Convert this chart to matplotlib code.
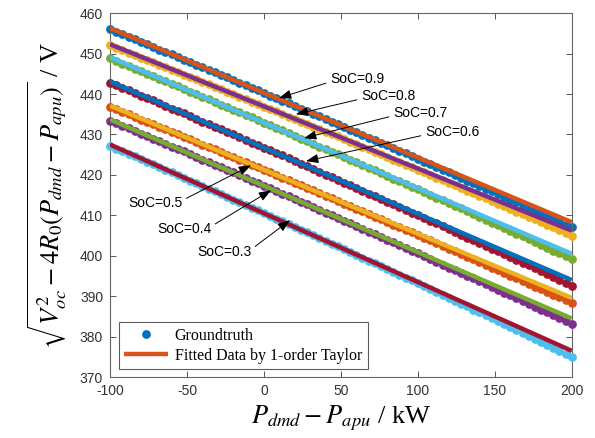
import numpy as np
import matplotlib
matplotlib.use("Agg")
import matplotlib.pyplot as plt

plt.rcParams["mathtext.fontset"] = "stix"
plt.rcParams["font.family"] = ["Liberation Sans", "DejaVu Sans"]
plt.rcParams["axes.unicode_minus"] = False

# demand power minus APU power, kW (sample grid of the ground truth)
power_kw = np.arange(-100, 201, 4)

# ground truth sqrt(Voc^2 - 4 R0 P), V
gt_09 = [456.0, 455.4, 454.8, 454.1, 453.5, 452.9, 452.3, 451.6, 451.0, 450.4,
         449.8, 449.1, 448.5, 447.9, 447.3, 446.6, 446.0, 445.4, 444.7, 444.1,
         443.5, 442.8, 442.2, 441.5, 440.9, 440.3, 439.6, 439.0, 438.3, 437.7,
         437.1, 436.4, 435.8, 435.1, 434.5, 433.8, 433.2, 432.5, 431.9, 431.2,
         430.6, 429.9, 429.2, 428.6, 427.9, 427.3, 426.6, 425.9, 425.3, 424.6,
         424.0, 423.3, 422.6, 422.0, 421.3, 420.6, 420.0, 419.3, 418.6, 417.9,
         417.3, 416.6, 415.9, 415.2, 414.5, 413.9, 413.2, 412.5, 411.8, 411.1,
         410.4, 409.8, 409.1, 408.4, 407.7, 407.0]
gt_08 = [452.0, 451.4, 450.8, 450.2, 449.6, 449.0, 448.4, 447.8, 447.2, 446.6,
         446.0, 445.4, 444.8, 444.2, 443.6, 443.0, 442.4, 441.8, 441.2, 440.6,
         440.0, 439.3, 438.7, 438.1, 437.5, 436.9, 436.3, 435.7, 435.0, 434.4,
         433.8, 433.2, 432.6, 431.9, 431.3, 430.7, 430.1, 429.5, 428.8, 428.2,
         427.6, 426.9, 426.3, 425.7, 425.1, 424.4, 423.8, 423.2, 422.5, 421.9,
         421.2, 420.6, 420.0, 419.3, 418.7, 418.0, 417.4, 416.8, 416.1, 415.5,
         414.8, 414.2, 413.5, 412.9, 412.2, 411.6, 410.9, 410.3, 409.6, 409.0,
         408.3, 407.6, 407.0, 406.3, 405.7, 405.0]
gt_07 = [448.8, 448.2, 447.5, 446.9, 446.3, 445.7, 445.0, 444.4, 443.8, 443.1,
         442.5, 441.9, 441.2, 440.6, 440.0, 439.3, 438.7, 438.1, 437.4, 436.8,
         436.1, 435.5, 434.8, 434.2, 433.5, 432.9, 432.3, 431.6, 431.0, 430.3,
         429.6, 429.0, 428.3, 427.7, 427.0, 426.4, 425.7, 425.1, 424.4, 423.7,
         423.1, 422.4, 421.7, 421.1, 420.4, 419.7, 419.1, 418.4, 417.7, 417.1,
         416.4, 415.7, 415.0, 414.4, 413.7, 413.0, 412.3, 411.7, 411.0, 410.3,
         409.6, 408.9, 408.2, 407.5, 406.9, 406.2, 405.5, 404.8, 404.1, 403.4,
         402.7, 402.0, 401.3, 400.6, 399.9, 399.2]
gt_06 = [442.8, 442.2, 441.5, 440.9, 440.3, 439.6, 439.0, 438.4, 437.7, 437.1,
         436.4, 435.8, 435.2, 434.5, 433.9, 433.2, 432.6, 431.9, 431.3, 430.6,
         430.0, 429.3, 428.7, 428.0, 427.4, 426.7, 426.1, 425.4, 424.8, 424.1,
         423.4, 422.8, 422.1, 421.5, 420.8, 420.1, 419.5, 418.8, 418.1, 417.5,
         416.8, 416.1, 415.4, 414.8, 414.1, 413.4, 412.7, 412.1, 411.4, 410.7,
         410.0, 409.3, 408.7, 408.0, 407.3, 406.6, 405.9, 405.2, 404.5, 403.8,
         403.1, 402.5, 401.8, 401.1, 400.4, 399.7, 399.0, 398.3, 397.6, 396.9,
         396.2, 395.5, 394.7, 394.0, 393.3, 392.6]
gt_05 = [436.8, 436.2, 435.6, 435.0, 434.3, 433.7, 433.1, 432.5, 431.9, 431.3,
         430.6, 430.0, 429.4, 428.8, 428.2, 427.5, 426.9, 426.3, 425.7, 425.0,
         424.4, 423.8, 423.1, 422.5, 421.9, 421.2, 420.6, 420.0, 419.3, 418.7,
         418.1, 417.4, 416.8, 416.2, 415.5, 414.9, 414.2, 413.6, 412.9, 412.3,
         411.6, 411.0, 410.3, 409.7, 409.0, 408.4, 407.7, 407.1, 406.4, 405.8,
         405.1, 404.4, 403.8, 403.1, 402.5, 401.8, 401.1, 400.5, 399.8, 399.1,
         398.5, 397.8, 397.1, 396.5, 395.8, 395.1, 394.4, 393.8, 393.1, 392.4,
         391.7, 391.0, 390.4, 389.7, 389.0, 388.3]
gt_04 = [433.4, 432.8, 432.1, 431.5, 430.9, 430.2, 429.6, 429.0, 428.3, 427.7,
         427.0, 426.4, 425.8, 425.1, 424.5, 423.8, 423.2, 422.5, 421.9, 421.2,
         420.6, 419.9, 419.3, 418.6, 418.0, 417.3, 416.7, 416.0, 415.3, 414.7,
         414.0, 413.4, 412.7, 412.0, 411.4, 410.7, 410.0, 409.4, 408.7, 408.0,
         407.3, 406.7, 406.0, 405.3, 404.7, 404.0, 403.3, 402.6, 401.9, 401.3,
         400.6, 399.9, 399.2, 398.5, 397.8, 397.1, 396.5, 395.8, 395.1, 394.4,
         393.7, 393.0, 392.3, 391.6, 390.9, 390.2, 389.5, 388.8, 388.1, 387.4,
         386.7, 386.0, 385.3, 384.5, 383.8, 383.1]
gt_03 = [427.2, 426.5, 425.9, 425.2, 424.6, 423.9, 423.3, 422.6, 421.9, 421.3,
         420.6, 420.0, 419.3, 418.6, 418.0, 417.3, 416.6, 415.9, 415.3, 414.6,
         413.9, 413.3, 412.6, 411.9, 411.2, 410.5, 409.9, 409.2, 408.5, 407.8,
         407.1, 406.4, 405.8, 405.1, 404.4, 403.7, 403.0, 402.3, 401.6, 400.9,
         400.2, 399.5, 398.8, 398.1, 397.4, 396.7, 396.0, 395.3, 394.6, 393.9,
         393.2, 392.5, 391.7, 391.0, 390.3, 389.6, 388.9, 388.2, 387.5, 386.7,
         386.0, 385.3, 384.6, 383.8, 383.1, 382.4, 381.6, 380.9, 380.2, 379.4,
         378.7, 378.0, 377.2, 376.5, 375.8, 375.0]

soc_labels = ["SoC=0.9", "SoC=0.8", "SoC=0.7", "SoC=0.6", "SoC=0.5", "SoC=0.4", "SoC=0.3"]
# 1-order Taylor fit, values at P=-100 and P=200
fit_ends_kw = [-100, 200]
fit_start = [456.3, 452.3, 449.1, 443.1, 437.1, 433.7, 427.5]
fit_end = [408.3, 406.2, 400.5, 394.0, 389.6, 384.5, 376.5]

# annotation arrow tips and text anchors (data coords)
tip_x = [9.7, 20.7, 26.0, 27.3, -8.4, 4.6, 16.9]
tip_y = [439.0, 435.0, 429.1, 423.4, 422.4, 416.2, 408.8]
text_x = [42.9, 63.0, 83.8, 104.6, -88.3, -69.5, -43.5]
text_y = [443.7, 439.5, 435.3, 430.6, 413.0, 406.6, 400.9]

# MATLAB default color order
blue, orange, yellow, purple = "#0072BD", "#D95319", "#EDB120", "#7E2F8E"
green, cyan, dkred = "#77AC30", "#4DBEEE", "#A2142F"
dot_colors = [blue, yellow, green, dkred, orange, purple, cyan]
line_colors = [orange, purple, cyan, blue, yellow, green, dkred]

groundtruth = [gt_09, gt_08, gt_07, gt_06, gt_05, gt_04, gt_03]

fig = plt.figure(figsize=(5.95, 4.38), dpi=100)
ax = fig.add_axes([0.185, 0.139, 0.776, 0.831])

for i, gt in enumerate(groundtruth):
    ax.plot(power_kw, gt, "o", color=dot_colors[i], markersize=6.3,
            markeredgewidth=0, clip_on=False, zorder=2 + 2 * i,
            label="Groundtruth" if i == 0 else None)
    ax.plot(fit_ends_kw, [fit_start[i], fit_end[i]], "-", color=line_colors[i],
            linewidth=3.2, solid_capstyle="butt", zorder=3 + 2 * i,
            label="Fitted Data by 1-order Taylor" if i == 0 else None)

for i, lab in enumerate(soc_labels):
    left_side = text_x[i] < tip_x[i]
    ax.annotate(lab, xy=(tip_x[i], tip_y[i]), xytext=(text_x[i], text_y[i]),
                ha="left", va="center", fontsize=10, color="black", zorder=30,
                arrowprops=dict(arrowstyle="-|>,head_length=0.75,head_width=0.28",
                                color="black", lw=0.7, shrinkA=1, shrinkB=0,
                                relpos=(1.0, 0.7) if left_side else (0.0, 0.3)))

ax.set_xlim(-100, 200)
ax.set_ylim(370, 460)
ax.set_xticks(np.arange(-100, 201, 50))
ax.set_yticks(np.arange(370, 461, 10))
ax.tick_params(direction="in", top=True, right=True, length=4, width=0.7,
               color="#555555", labelsize=10, labelcolor="#333333", pad=5)
for sp in ax.spines.values():
    sp.set_color("#666666")
    sp.set_linewidth(0.8)

ax.set_xlabel(r"$P_{dmd} - P_{apu}$ / kW", fontsize=19, family="Liberation Serif", labelpad=4)
ax.set_ylabel(r"$\sqrt{V_{oc}^2 - 4R_0(P_{dmd} - P_{apu})}$ / V", fontsize=19,
              family="Liberation Serif", labelpad=8)

leg = ax.legend(loc="lower left", bbox_to_anchor=(0.019, 0.022), borderaxespad=0,
                prop={"family": "Liberation Serif", "size": 11.5}, frameon=True,
                fancybox=False, handlelength=2.7, handletextpad=0.45,
                labelspacing=0.25, borderpad=0.35)
leg.get_frame().set_edgecolor("#333333")
leg.get_frame().set_linewidth(0.8)
leg.set_zorder(40)

fig.savefig("out.png", dpi=100)
